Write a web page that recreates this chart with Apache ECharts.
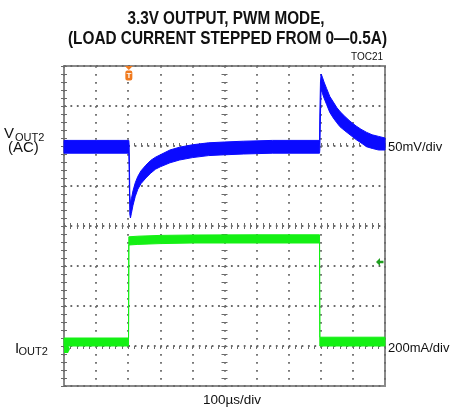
<!DOCTYPE html>
<html><head><meta charset="utf-8">
<script src="https://cdn.jsdelivr.net/npm/echarts@6/dist/echarts.min.js"></script>
<style>html,body{margin:0;padding:0;background:#fff}#c{width:455px;height:411px}</style>
</head><body><div id="c"></div>
<script>
// ---- chart text ----
const titleLines = ['3.3V OUTPUT, PWM MODE,', '(LOAD CURRENT STEPPED FROM 0\u20140.5A)'];
const figId = 'TOC21';
const vScaleLabel = '50mV/div';
const iScaleLabel = '200mA/div';
const tScaleLabel = '100\u00b5s/div';

// ---- axes (scope divisions) ----
const timeMin = 0, timeMax = 1000, timeStep = 100;   // µs, 10 div
const vMin = -300, vMax = 100, vStep = 50;           // mV (AC), 8 div
const iMin = -200, iMax = 1400, iStep = 200;         // mA, 8 div

// ---- VOUT2 trace envelope (noise band), mV ----
const vTime  = [0, 100, 202, 203, 205, 207, 210, 215, 222, 230, 240, 255, 270, 285, 300, 330, 360, 400, 450, 500, 560, 650, 796, 797, 799, 801, 805, 810, 818, 828, 839, 850, 860, 875, 891, 910, 925, 943, 960, 980, 1000];
const vUpper = [7, 7, 7, 0, -60, -72, -66, -56, -46, -38, -31, -24, -18, -14, -11, -5, -1.5, 1.5, 4, 5, 6, 7, 7, 40, 80, 90, 86, 80, 72, 62, 55, 48, 43, 37, 31, 25, 21, 17, 14, 12, 10];
const vLower = [-9, -9, -9, -30, -85, -90, -84, -74, -63, -54, -47, -40, -34, -29, -26, -21, -17.5, -14.5, -12, -11, -10, -9, -9, -5, 40, 72, 66, 60, 52, 42, 35, 29, 24, 19, 14, 8, 4, -1, -3, -5, -5];

// ---- IOUT2 trace envelope, mA ----
const iTime  = [0, 201, 202, 230, 300, 400, 600, 796, 797, 1000];
const iUpper = [40, 40, 546, 549, 553, 555, 556, 556, 44, 44];
const iLower = [0, 0, 505, 508, 512, 515, 515, 515, 0, 0];

// ---- scope markers ----
const triggerTime = 202;     // µs
const triggerLevel = 420;    // mA
const vGround = 0;           // mV
const iGround = -15;         // mA

const BLUE = '#0a0aff', GREEN = '#14f014', GRID = '#6a6a6a';
const FONT = '"Liberation Sans", Arial, sans-serif';

function bandSeries(t, up, lo, color, yIdx) {
  return {
    type: 'custom', xAxisIndex: 0, yAxisIndex: yIdx, silent: true, animation: false, z: 5,
    data: [[t[0], lo[0]]],
    renderItem: function (params, api) {
      const pts = [];
      for (let i = 0; i < t.length; i++) pts.push(api.coord([t[i], up[i]]));
      for (let i = t.length - 1; i >= 0; i--) pts.push(api.coord([t[i], lo[i]]));
      return { type: 'polygon', shape: { points: pts }, style: { fill: color, stroke: color, lineWidth: 1 } };
    }
  };
}

function tickAxis(extra) {
  return Object.assign({
    type: 'value', axisLine: { show: false }, axisLabel: { show: false },
    axisTick: { show: true, inside: true, length: 3, lineStyle: { color: GRID, width: 1 } },
    minorTick: { show: true, splitNumber: 5, length: 3, lineStyle: { color: GRID, width: 1 } },
    splitLine: { show: false }
  }, extra);
}
function centerTicks(extra, inside) {
  return tickAxis(Object.assign({
    axisTick: { show: true, inside: inside, length: 3, lineStyle: { color: GRID } },
    minorTick: { show: true, splitNumber: 5, length: 3, lineStyle: { color: GRID } }
  }, extra));
}

const option = {
  animation: false,
  backgroundColor: '#fff',
  grid: { left: 64, top: 66, width: 321, height: 320, show: true, borderColor: '#8a8a8a', borderWidth: 2, backgroundColor: 'transparent' },
  xAxis: [
    tickAxis({ position: 'bottom', min: timeMin, max: timeMax, interval: timeStep,
      splitLine: { show: true, lineStyle: { color: GRID, width: 1.8, type: [1.8, 6.2], opacity: 1 } } }),
    tickAxis({ position: 'top', min: timeMin, max: timeMax, interval: timeStep }),
    centerTicks({ position: 'bottom', offset: -160, min: timeMin, max: timeMax, interval: timeStep }, true),
    centerTicks({ position: 'bottom', offset: -160, min: timeMin, max: timeMax, interval: timeStep }, false)
  ],
  yAxis: [
    tickAxis({ position: 'left', min: vMin, max: vMax, interval: vStep,
      splitLine: { show: true, lineStyle: { color: GRID, width: 1.8, type: [1.8, 4.62], opacity: 1 } } }),
    tickAxis({ position: 'right', min: iMin, max: iMax, interval: iStep }),
    centerTicks({ position: 'left', offset: -160.5, min: vMin, max: vMax, interval: vStep }, true),
    centerTicks({ position: 'left', offset: -160.5, min: vMin, max: vMax, interval: vStep }, false)
  ],
  series: [
    bandSeries(vTime, vUpper, vLower, BLUE, 0),
    bandSeries(iTime, iUpper, iLower, GREEN, 1)
  ]
};

const chart = echarts.init(document.getElementById('c'), null, { renderer: 'canvas' });
chart.setOption(option);

function txt(text, x, y, font, align, fill, sx) {
  return { type: 'text', x: x, y: y, scaleX: sx || 1, silent: true, z: 20,
    style: { text: text, font: font, fill: fill || '#111', align: align, textAlign: align, verticalAlign: 'middle', textVerticalAlign: 'middle' } };
}

const VX = { xAxisIndex: 0, yAxisIndex: 0 }, IX = { xAxisIndex: 0, yAxisIndex: 1 };
const trig = chart.convertToPixel(VX, [triggerTime, vMax]);
const vg = chart.convertToPixel(VX, [timeMin, vGround]);
const ig = chart.convertToPixel(IX, [timeMin, iGround]);
const tl = chart.convertToPixel(IX, [timeMax, triggerLevel]);
const right = chart.convertToPixel(VX, [timeMax, vGround]);
const bottom = chart.convertToPixel(VX, [timeMin, vMin]);
const mid = chart.convertToPixel(VX, [(timeMin + timeMax) / 2, vMin]);

const g = [
  txt(titleLines[0], 226, 19, 'bold 18px ' + FONT, 'center', '#111', 0.85),
  txt(titleLines[1], 227.5, 38.7, 'bold 18px ' + FONT, 'center', '#111', 0.853),
  txt(figId, 383, 57, '10px ' + FONT, 'right'),
  txt('V', 4, 133.5, '15px ' + FONT, 'left'),
  txt('OUT2', 15, 137.5, '11px ' + FONT, 'left'),
  txt('(AC)', 8, 148, '15px ' + FONT, 'left'),
  txt('I', 15, 348.5, '15px ' + FONT, 'left'),
  txt('OUT2', 18.5, 351.5, '11px ' + FONT, 'left'),
  txt(vScaleLabel, right[0] + 3, vg[1] + 1, '13px ' + FONT, 'left'),
  txt(iScaleLabel, right[0] + 3, chart.convertToPixel(IX, [timeMax, -10])[1], '13px ' + FONT, 'left'),
  txt(tScaleLabel, mid[0] + 7.5, bottom[1] + 14, '13.5px ' + FONT, 'center'),
  // trigger position marker
  { type: 'polygon', silent: true, z: 20, shape: { points: [[trig[0] - 4, trig[1]], [trig[0] + 4, trig[1]], [trig[0], trig[1] + 4]] }, style: { fill: '#f07a1e' } },
  { type: 'rect', silent: true, z: 20, shape: { x: trig[0] - 3.5, y: trig[1] + 4.5, width: 7, height: 10, r: 2 }, style: { fill: '#f07a1e' } },
  txt('T', trig[0], trig[1] + 9.8, 'bold 8px ' + FONT, 'center', '#fff'),
  // channel ground markers
  { type: 'polygon', silent: true, z: 20, shape: { points: [[vg[0], vg[1] - 6], [vg[0] + 4, vg[1] - 6], [vg[0] + 6, vg[1]], [vg[0] + 4, vg[1] + 6], [vg[0], vg[1] + 6]] }, style: { fill: BLUE } },
  { type: 'polygon', silent: true, z: 20, shape: { points: [[ig[0], ig[1] - 4], [ig[0] + 4, ig[1] - 4], [ig[0] + 6, ig[1]], [ig[0] + 4, ig[1] + 4], [ig[0], ig[1] + 4]] }, style: { fill: GREEN } },
  // trigger level arrow
  { type: 'polygon', silent: true, z: 20, shape: { points: [[tl[0] - 9, tl[1]], [tl[0] - 5, tl[1] - 4], [tl[0] - 5, tl[1] - 1.2], [tl[0] - 1.5, tl[1] - 1.2], [tl[0] - 1.5, tl[1] + 1.2], [tl[0] - 5, tl[1] + 1.2], [tl[0] - 5, tl[1] + 4]] }, style: { fill: '#1f9e1f' } }
];
chart.setOption({ graphic: g });
</script>
</body></html>
